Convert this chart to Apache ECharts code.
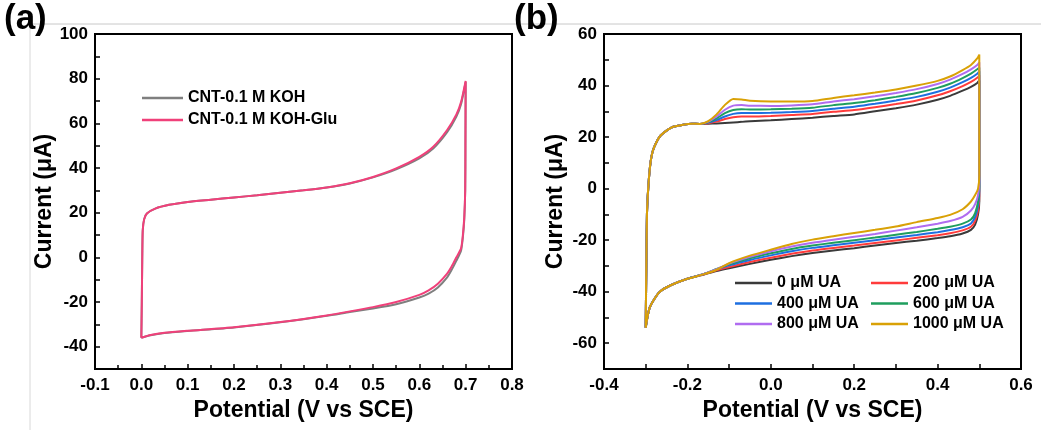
<!DOCTYPE html>
<html>
<head>
<meta charset="utf-8">
<script src="https://cdn.jsdelivr.net/npm/echarts@6/dist/echarts.min.js"></script>
<style>html,body{margin:0;padding:0;background:#fff}#c{width:1041px;height:430px}</style>
</head>
<body>
<div id="c"></div>
<script>
// ---------- Panel (a) data ----------
const potA = [0, 0.001, 0.002, 0.003, 0.006, 0.012, 0.03, 0.06, 0.1, 0.15, 0.2, 0.25, 0.3, 0.35, 0.4, 0.45, 0.5, 0.55, 0.6, 0.63, 0.66, 0.68, 0.69, 0.7,
  0.6995, 0.699, 0.697, 0.694, 0.69, 0.68, 0.67, 0.66, 0.64, 0.62, 0.6, 0.55, 0.5, 0.45, 0.4, 0.3, 0.2, 0.1, 0.05, 0.02, 0];
const curKOH = [-36, -20, 0, 12, 17, 19.6, 21.8, 23.5, 24.8, 25.8, 26.8, 27.8, 28.9, 30, 31.3, 33.1, 35.8, 39.4, 44.3, 48.7, 56, 63, 68.5, 78.5,
  50, 30, 17, 9, 3, -1.5, -5.5, -9, -13.5, -16.3, -18, -21, -22.9, -24.5, -26.2, -29.1, -31.4, -33, -33.9, -34.9, -36];
const curKOHGlu = [-36, -20, 0, 12, 17, 19.6, 21.8, 23.5, 24.8, 25.8, 26.8, 27.8, 28.9, 30, 31.3, 33.2, 36, 39.8, 45, 49.5, 57, 64, 69.5, 79,
  50, 30, 18, 10, 4, 0, -4, -7.3, -11.8, -14.8, -16.8, -20, -22.3, -24.2, -26, -29, -31.3, -32.9, -33.8, -34.8, -36];
const namesA = ['CNT-0.1 M KOH', 'CNT-0.1 M KOH-Glu'];
const colorsA = ['#7f7f7f', '#f0407a'];

// ---------- Panel (b) data ----------
const potB = [-0.3, -0.2985, -0.297, -0.294, -0.29, -0.286, -0.28, -0.266, -0.25, -0.234, -0.21, -0.19, -0.17,
  -0.15, -0.13, -0.11, -0.09, -0.07, -0.05, 0, 0.05, 0.1, 0.15, 0.2, 0.25, 0.3, 0.35, 0.4, 0.43, 0.46, 0.48, 0.495, 0.5,
  0.5, 0.497, 0.49, 0.48, 0.46, 0.43, 0.4, 0.35, 0.3, 0.25, 0.2, 0.15, 0.1, 0.05, 0, -0.05, -0.1, -0.13, -0.16,
  -0.2, -0.24, -0.266, -0.28, -0.29, -0.296, -0.3];
const upStartB = [-54, -30, -10, 0, 8, 12.6, 16, 20.3, 22.5, 24, 24.8, 25.2, 25.1];
const downEndB = [-35, -37.5, -40, -43, -46, -50, -54];
const up0 = [25.2, 25.3, 25.5, 25.7, 25.9, 26.1, 26.5, 27, 27.5, 28.2, 28.8, 30, 31.2, 32.6, 34.5, 36, 38, 39.5, 41, 42];
const up200 = [25.4, 26, 27, 27.7, 28, 28, 28.2, 28.6, 29, 29.8, 30.5, 31.6, 32.8, 34.2, 36.2, 37.8, 39.8, 41.4, 43, 44];
const up400 = [25.6, 26.6, 28, 29, 29.3, 29.3, 29.4, 29.7, 30.1, 31, 31.8, 32.9, 34.2, 35.6, 37.6, 39.2, 41.3, 43, 44.6, 45.5];
const up600 = [25.8, 27.3, 29.3, 30.5, 30.8, 30.7, 30.8, 31, 31.4, 32.4, 33.2, 34.3, 35.6, 37.1, 39.1, 40.7, 42.9, 44.6, 46.3, 47];
const up800 = [26, 28, 30.6, 32.2, 32.4, 32.2, 32.1, 32.3, 32.7, 33.8, 34.7, 35.8, 37.1, 38.6, 40.6, 42.3, 44.5, 46.3, 48, 49];
const up1000 = [26.2, 28.8, 32.5, 34.8, 34.6, 34.1, 33.8, 33.8, 34, 35.2, 36.2, 37.3, 38.5, 40, 41.8, 43.5, 46, 48, 50.5, 52];
const down0 = [-5, -10, -14, -16, -17.4, -18.5, -19.2, -20.2, -21.1, -22.1, -23.1, -24, -25, -26.2, -27.6, -29.2, -30.9, -32, -33.3];
const down200 = [-3, -8.5, -12.5, -14.8, -16.2, -17.3, -18.1, -19.1, -20.1, -21.1, -22.1, -23, -24, -25.3, -26.8, -28.5, -30.4, -31.7, -33.2];
const down400 = [-1, -6.5, -11, -13.5, -15, -16.1, -16.9, -18, -19, -20, -21, -22, -23, -24.3, -25.9, -27.7, -29.8, -31.4, -33.1];
const down600 = [1, -5, -9.5, -12, -13.6, -14.8, -15.6, -16.8, -17.9, -19, -20, -21, -22.1, -23.4, -25.1, -27, -29.4, -31.2, -33.1];
const down800 = [3, -2.5, -6, -8.5, -11, -12.6, -13.6, -15, -16.3, -17.6, -18.7, -19.8, -21, -22.5, -24.3, -26.5, -29.1, -31.3, -33.1];
const down1000 = [5, 0, -2.5, -5, -8, -10.2, -11.4, -13, -14.7, -16, -17.2, -18.5, -19.8, -21.5, -23.7, -26, -28.9, -31.5, -33.2];
const namesB = ['0 μM UA', '200 μM UA', '400 μM UA', '600 μM UA', '800 μM UA', '1000 μM UA'];
const colorsB = ['#3a3a3a', '#ff3b3b', '#1e6fe0', '#1f9e5e', '#b06cf0', '#d9a106'];
const upsB = [up0, up200, up400, up600, up800, up1000];
const downsB = [down0, down200, down400, down600, down800, down1000];

// tick labels
const xLabelsA = ['-0.1', '0.0', '0.1', '0.2', '0.3', '0.4', '0.5', '0.6', '0.7', '0.8'];
const yLabelsA = ['-40', '-20', '0', '20', '40', '60', '80', '100'];
const xLabelsB = ['-0.4', '-0.2', '0.0', '0.2', '0.4', '0.6'];
const yLabelsB = ['-60', '-40', '-20', '0', '20', '40', '60'];

const FONT = "'Liberation Sans', Arial, sans-serif";
const pairs = (xs, ys) => xs.map((x, i) => [x, ys[i]]);

const chart = echarts.init(document.getElementById('c'), null, {renderer: 'canvas'});

function xAx(gi, min, max, labels) {
  return {
    type: 'value', gridIndex: gi, min: min, max: max, interval: 0.1,
    axisLine: {show: true, onZero: false, lineStyle: {color: '#000', width: 2}},
    axisTick: {show: true, inside: true, length: 5, lineStyle: {color: '#000', width: 1.5}},
    minorTick: {show: gi === 0, splitNumber: 2, length: 4, lineStyle: {color: '#000', width: 1.5}},
    splitLine: {show: false}, minorSplitLine: {show: false},
    axisLabel: {
      color: '#000', fontSize: 17, fontWeight: 'bold', fontFamily: FONT, margin: 8,
      formatter: v => { const s = (Math.round(v * 10) / 10).toFixed(1); return labels.indexOf(s) >= 0 ? s : ''; }
    },
    name: 'Potential (V vs SCE)', nameLocation: 'middle', nameGap: 26,
    nameTextStyle: {color: '#000', fontSize: 23, fontWeight: 'bold', fontFamily: FONT}
  };
}
function yAx(gi, min, max, labels, gap) {
  return {
    type: 'value', gridIndex: gi, min: min, max: max, interval: 10,
    axisLine: {show: true, onZero: false, lineStyle: {color: '#000', width: 2}},
    axisTick: {show: true, inside: true, length: 5, lineStyle: {color: '#000', width: 1.5}},
    splitLine: {show: false},
    axisLabel: {
      color: '#000', fontSize: 17, fontWeight: 'bold', fontFamily: FONT, margin: 7,
      formatter: v => { const s = String(Math.round(v)); return labels.indexOf(s) >= 0 ? s : ''; }
    },
    name: 'Current (μA)', nameLocation: 'middle', nameGap: gap,
    nameTextStyle: {color: '#000', fontSize: 23, fontWeight: 'bold', fontFamily: FONT}
  };
}

const series = [];
namesA.forEach((n, i) => {
  series.push({
    name: n, type: 'line', xAxisIndex: 0, yAxisIndex: 0, symbol: 'none', smooth: 0.2,
    lineStyle: {color: colorsA[i], width: 2}, itemStyle: {color: colorsA[i]},
    data: pairs(potA, i === 0 ? curKOH : curKOHGlu), z: 2 + i
  });
});
namesB.forEach((n, i) => {
  const cur = upStartB.concat(upsB[i], downsB[i], downEndB);
  series.push({
    name: n, type: 'line', xAxisIndex: 1, yAxisIndex: 1, symbol: 'none', smooth: 0.2,
    lineStyle: {color: colorsB[i], width: 2}, itemStyle: {color: colorsB[i]},
    data: pairs(potB, cur), z: 2 + i
  });
});

const legendText = {color: '#000', fontSize: 16, fontWeight: 'bold', fontFamily: FONT};
const legendBase = {orient: 'vertical', padding: 0, icon: 'rect', itemHeight: 2.5, textStyle: legendText};
chart.setOption({
  animation: false,
  backgroundColor: '#fff',
  grid: [
    {left: 95, top: 34, width: 417, height: 335, show: true, borderColor: '#000', borderWidth: 2, backgroundColor: 'transparent'},
    {left: 604, top: 34, width: 417, height: 335, show: true, borderColor: '#000', borderWidth: 2, backgroundColor: 'transparent'}
  ],
  xAxis: [xAx(0, -0.1, 0.8, xLabelsA), xAx(1, -0.4, 0.6, xLabelsB)],
  yAxis: [yAx(0, -50, 100, yLabelsA, 34), yAx(1, -70, 60, yLabelsB, 37)],
  legend: [
    Object.assign({data: namesA, left: 142, top: 90, itemWidth: 41, itemGap: 6}, legendBase),
    Object.assign({data: [namesB[0], namesB[2], namesB[4]], left: 735, top: 275, itemWidth: 37, itemGap: 4.5}, legendBase),
    Object.assign({data: [namesB[1], namesB[3], namesB[5]], left: 871, top: 275, itemWidth: 37, itemGap: 4.5}, legendBase)
  ],
  graphic: [
    {type: 'line', shape: {x1: 30, y1: 24, x2: 1041, y2: 24}, style: {stroke: '#c8c8c8', lineWidth: 1}, z: -1},
    {type: 'line', shape: {x1: 30, y1: 24, x2: 30, y2: 430}, style: {stroke: '#d8d8d8', lineWidth: 1}, z: -1},
    {type: 'text', left: 4, top: 2, style: {text: '(a)', fill: '#000', font: 'bold 35px ' + FONT}, z: 10},
    {type: 'text', left: 514, top: 2, style: {text: '(b)', fill: '#000', font: 'bold 35px ' + FONT}, z: 10}
  ],
  series: series
});
</script>
</body>
</html>
